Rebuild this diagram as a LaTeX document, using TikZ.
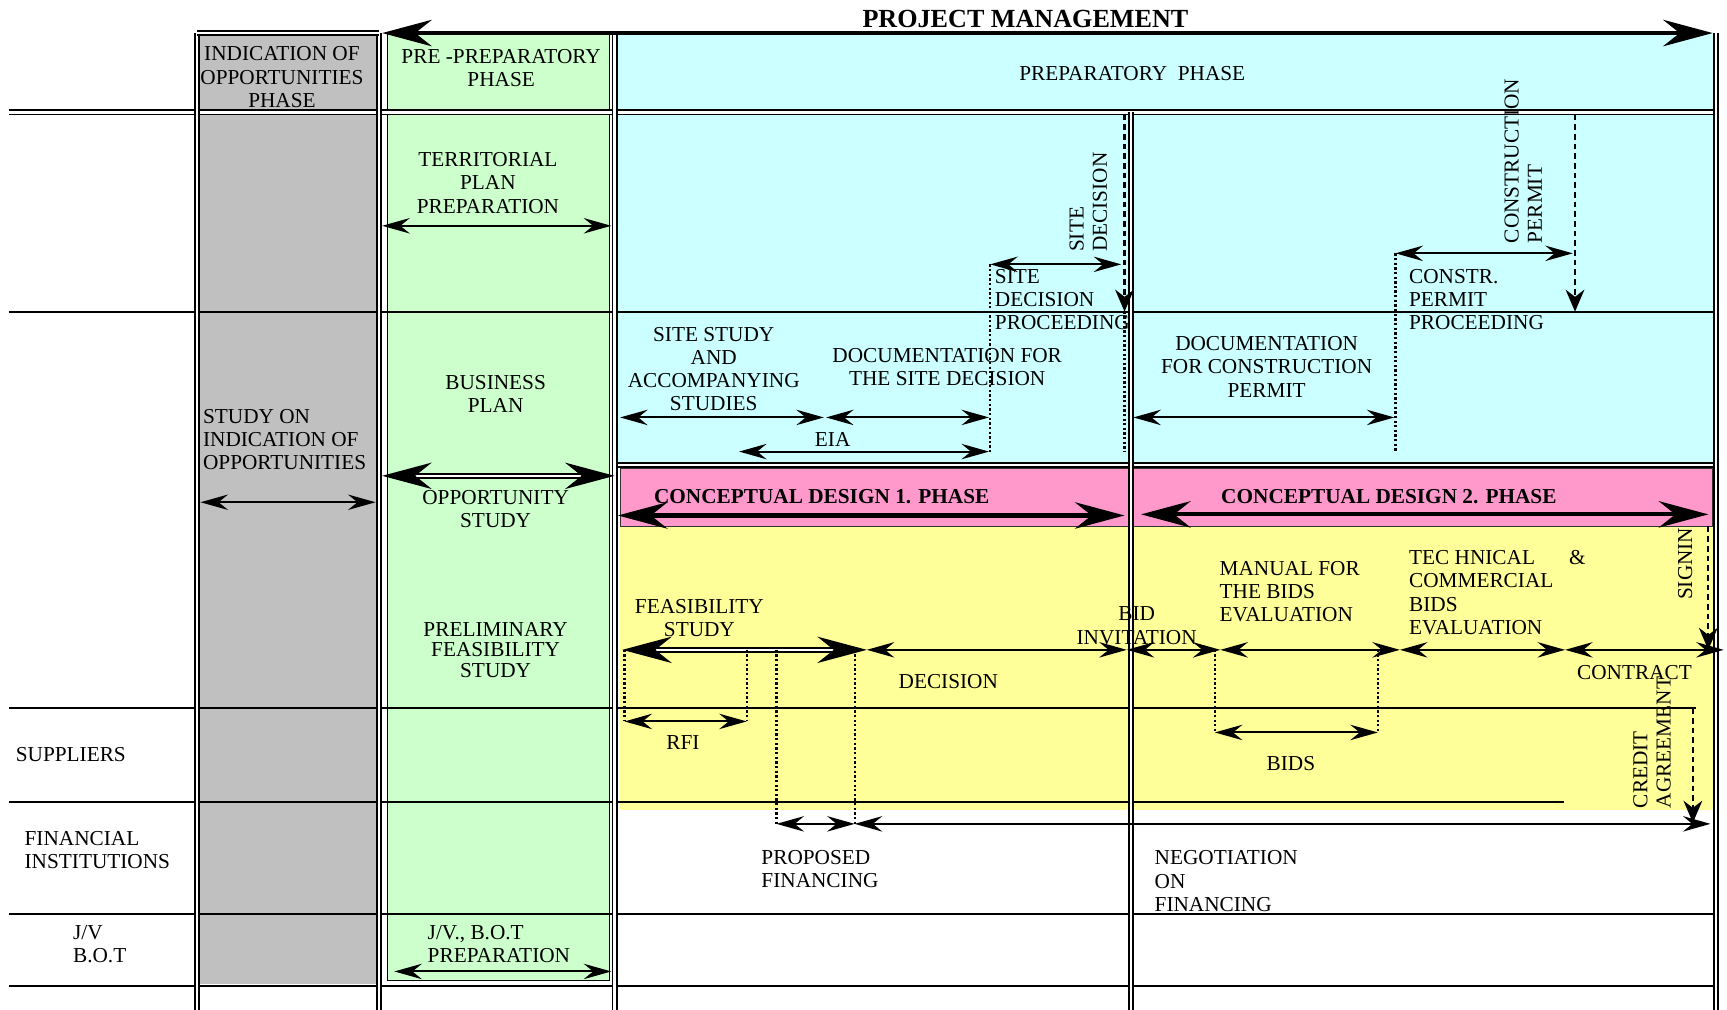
\documentclass[tikz,border=0pt]{standalone}
\usepackage{fontspec}
\setmainfont{Liberation Serif}
\usepackage{tikz}
\usetikzlibrary{arrows.meta,positioning,calc}
\definecolor{phgray}{RGB}{192,192,192}
\definecolor{phgreen}{RGB}{204,255,204}
\definecolor{phcyan}{RGB}{204,255,255}
\definecolor{phpink}{RGB}{255,153,204}
\definecolor{phyellow}{RGB}{255,255,153}
\tikzset{smtip/.tip={Stealth[length=5mm,width=2.8mm,inset=1.7mm]}, bigtip/.tip={Stealth[length=9mm,width=4.8mm,inset=3mm]}, dtip/.tip={Stealth[length=4mm,width=3.4mm,inset=1.3mm]},
lbl/.style={align=center, inner sep=0pt, font=\fontsize{11}{12}\selectfont}, lbll/.style={lbl, align=left}, vlbl/.style={lbll, rotate=90, anchor=west}, blbl/.style={lbl, font=\fontsize{11}{12}\selectfont\bfseries},
spanarr/.style={smtip-smtip, line width=1pt}, bigspan/.style={bigtip-bigtip, line width=2.2pt}, dblspan/.style={bigtip-bigtip, double, double distance=1.3pt, line width=0.9pt},
dotline/.style={line width=1.2pt, dash pattern=on 1.2pt off 1.2pt}, dashar/.style={-dtip, line width=1.2pt, dash pattern=on 3pt off 2pt},
divline/.style={double, double distance=1.2pt, line width=0.95pt}, rowline/.style={line width=1.1pt}}
\begin{document}
\begin{tikzpicture}[x=0.02cm,y=-0.02cm]
\useasboundingbox (0,0) rectangle (1568,917);
% phase backgrounds
\fill[phgray] (182,30) rectangle (342,893);
\filldraw[fill=phgreen,draw=black,line width=0.5pt] (352,30) rectangle (553,890);
\fill[phcyan] (561,30) rectangle (1556,422);
\fill[phyellow] (563,478) rectangle (1557,735);
\node[vlbl] (signing) at (1530,545) {SIGNING};
\filldraw[fill=phpink,draw=black!80,line width=0.6pt] (563,425) rectangle (1555,478);
% grid
\draw[divline] (8,102) -- (1560,102);
\draw[rowline] (8,283) -- (1555,283);
\draw[divline] (561,422) -- (1555,422);
\draw[rowline] (8,643) -- (1540,643);
\draw[rowline] (8,728) -- (1420,728);
\draw[rowline] (8,830) -- (1555,830);
\draw[rowline] (8,895) -- (1555,895);
\draw[divline] (179,30) -- (179,917);
\draw[divline] (344,30) -- (344,917);
\draw[divline] (558,30) -- (558,917);
\draw[divline] (1027,102) -- (1027,917);
\draw[divline] (1558,30) -- (1558,917);
\draw[divline] (179,30) -- (344,30);
% headings
\node[blbl,font=\fontsize{13.5}{14}\selectfont\bfseries] (pm) at (931,17) {PROJECT MANAGEMENT};
\node[lbl] (iop) at (256,70) {INDICATION OF\\OPPORTUNITIES\\PHASE};
\node[lbl] (ppp) at (455,62) {PRE -PREPARATORY\\PHASE};
\node[lbl] (pp) at (1028,67) {PREPARATORY~~PHASE};
% left column texts
\node[lbl] (tpp) at (443,166) {TERRITORIAL\\PLAN\\PREPARATION};
\node[lbl] (bp) at (450,358) {BUSINESS\\PLAN};
\node[lbl] (os) at (450,462) {OPPORTUNITY\\STUDY};
\node[lbl,font=\fontsize{11}{10.5}\selectfont] (pfs) at (450,590) {PRELIMINARY\\FEASIBILITY\\STUDY};
\node[lbll,anchor=west] (jvp) at (388,857) {J/V., B.O.T\\PREPARATION};
\node[lbll,anchor=west] (soi) at (184,399) {STUDY ON\\INDICATION OF\\OPPORTUNITIES};
\node[lbll,anchor=west] (sup) at (14,685) {SUPPLIERS};
\node[lbll,anchor=west] (fin) at (22,772) {FINANCIAL\\INSTITUTIONS};
\node[lbll,anchor=west] (jv) at (66,857) {J/V\\B.O.T};
% preparatory phase texts
\node[lbl] (ss) at (648,335) {SITE STUDY\\AND\\ACCOMPANYING\\STUDIES};
\node[lbl] (dsd) at (860,333) {DOCUMENTATION FOR\\THE SITE DECISION};
\node[lbl] (eia) at (756,399) {EIA};
\node[lbll,anchor=west] (sdp) at (903,272) {SITE\\DECISION\\PROCEEDING};
\node[vlbl] (sd) at (988,229) {SITE\\DECISION};
\node[lbl] (dcp) at (1150,333) {DOCUMENTATION\\FOR CONSTRUCTION\\PERMIT};
\node[lbll,anchor=west] (cpp) at (1279,272) {CONSTR.\\PERMIT\\PROCEEDING};
\node[vlbl] (cp) at (1383,221) {CONSTRUCTION\\PERMIT};
\node[blbl] (cd1) at (746,451) {CONCEPTUAL DESIGN 1. PHASE};
\node[blbl] (cd2) at (1261,451) {CONCEPTUAL DESIGN 2. PHASE};
% tender texts
\node[lbl] (fs) at (635,561) {FEASIBILITY\\STUDY};
\node[lbl] (dec) at (861,619) {DECISION};
\node[lbl] (bi) at (1032,568) {BID\\INVITATION};
\node[lbll,anchor=west] (mbe) at (1107,537) {MANUAL FOR\\THE BIDS\\EVALUATION};
\node[lbl] (bids) at (1172,693) {BIDS};
\node[lbll,anchor=west] (tcb) at (1279,538) {TEC HNICAL\hspace{1.6em}\&\\COMMERCIAL\\BIDS\\EVALUATION};
\node[lbl] (con) at (1484,611) {CONTRACT};
\node[lbl] (rfi) at (620,674) {RFI};
\node[lbll,anchor=west] (pf) at (691,789) {PROPOSED\\FINANCING};
\node[lbll,anchor=west] (nof) at (1048,800) {NEGOTIATION\\ON\\FINANCING};
\node[vlbl] (ca) at (1500,734) {CREDIT\\AGREEMENT};
% span ends
\coordinate (pm-a) at (347,30); \coordinate (pm-b) at (1555,30);
\coordinate (tp-a) at (347,205); \coordinate (tp-b) at (555,205);
\coordinate (op-a) at (347,432); \coordinate (op-b) at (558,432);
\coordinate (jv-a) at (358,882); \coordinate (jv-b) at (555,882);
\coordinate (so-a) at (182,456); \coordinate (so-b) at (341,456);
\coordinate (ss-a) at (563,379); \coordinate (ss-b) at (748,379);
\coordinate (ds-b) at (898,379);
\coordinate (ei-a) at (671,410); \coordinate (ei-b) at (898,410);
\coordinate (sp-a) at (899,240); \coordinate (sp-b) at (1018,240);
\coordinate (dc-a) at (1029,379); \coordinate (dc-b) at (1266,379);
\coordinate (cp-a) at (1267,230); \coordinate (cp-b) at (1428,230);
\coordinate (c1-a) at (561,468); \coordinate (c1-b) at (1021,468);
\coordinate (c2-a) at (1036,467); \coordinate (c2-b) at (1551,467);
\coordinate (fs-a) at (565,590); \coordinate (fs-b) at (787,590);
\coordinate (de-b) at (1023,590); \coordinate (bi-b) at (1108,590);
\coordinate (mb-b) at (1271,590); \coordinate (tc-b) at (1421,590);
\coordinate (co-b) at (1565,590);
\coordinate (bd-a) at (1103,665); \coordinate (bd-b) at (1251,665);
\coordinate (rf-a) at (567,655); \coordinate (rf-b) at (678,655);
\coordinate (pf-a) at (705,748); \coordinate (pf-b) at (776,748); \coordinate (nf-b) at (1553,748);
% spans
\draw[bigspan] (pm-a) -- (pm-b);
\draw[spanarr] (tp-a) -- (tp-b);
\draw[dblspan] (op-a) -- (op-b);
\draw[spanarr] (jv-a) -- (jv-b);
\draw[spanarr] (so-a) -- (so-b);
\draw[spanarr] (ss-a) -- (ss-b); \draw[spanarr] (ss-b) ++(2,0) -- (ds-b);
\draw[spanarr] (ei-a) -- (ei-b);
\draw[spanarr] (sp-a) -- (sp-b);
\draw[spanarr] (dc-a) -- (dc-b);
\draw[spanarr] (cp-a) -- (cp-b);
\draw[bigspan] (c1-a) -- (c1-b);
\draw[bigspan] (c2-a) -- (c2-b);
\draw[dblspan] (fs-a) -- (fs-b);
\draw[spanarr] (fs-b) -- (de-b); \draw[spanarr] (de-b) -- (bi-b); \draw[spanarr] (bi-b) -- (mb-b);
\draw[spanarr] (mb-b) -- (tc-b); \draw[spanarr] (tc-b) -- (co-b);
\draw[spanarr] (bd-a) -- (bd-b);
\draw[spanarr] (rf-a) -- (rf-b);
\draw[spanarr] (pf-a) -- (pf-b); \draw[spanarr] (pf-b) -- (nf-b);
% milestone markers
\draw[dotline] (sp-a) -- (ei-b -| sp-a);
\draw[dotline] (cp-a) -- (ei-b -| cp-a);
\draw[dotline] (1021,283) -- (1021,410);
\draw[dotline] (rf-a |- fs-a) -- (rf-a); \draw[dotline] (rf-b |- fs-a) -- (rf-b);
\draw[dotline] (pf-a |- fs-a) -- (pf-a); \draw[dotline] (pf-b |- fs-a) -- (pf-b);
\draw[dotline] (bd-a |- fs-a) -- (bd-a); \draw[dotline] (bd-b |- fs-a) -- (bd-b);
\draw[dashar] (1021,104) -- (1021,283);
\draw[dashar] (1430,104) -- (1430,283);
\draw[dashar] (1551,478) -- (1551,590);
\draw[dashar] (1537,643) -- (1537,747);
\end{tikzpicture}
\end{document}
